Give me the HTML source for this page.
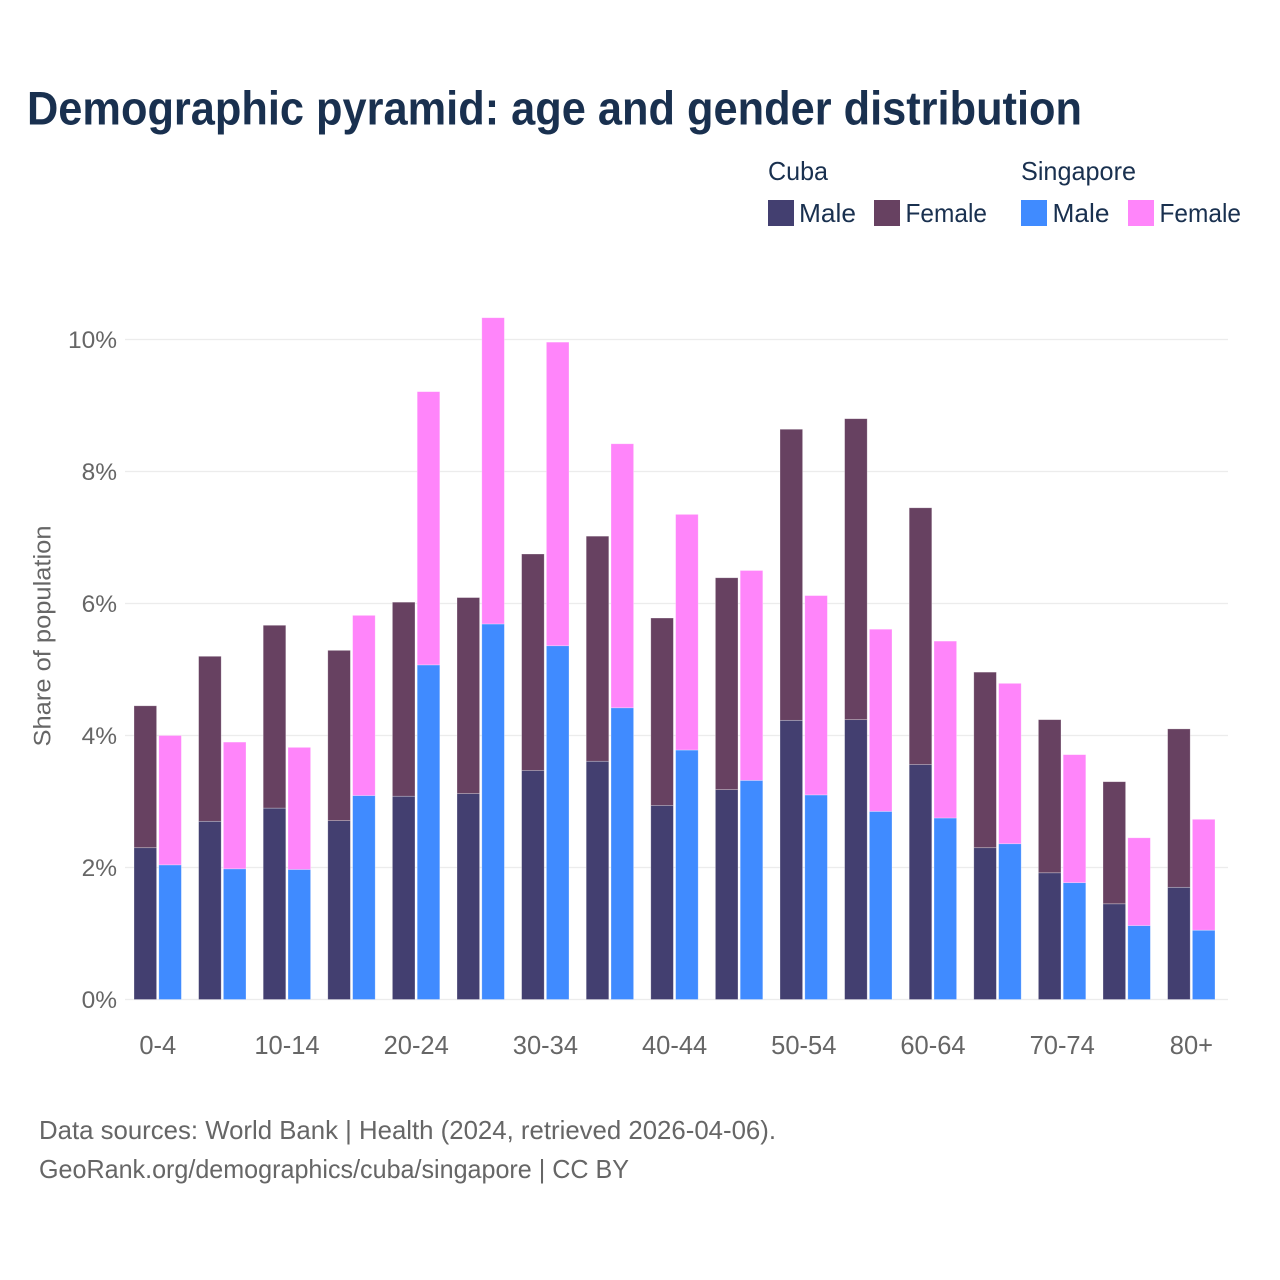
<!DOCTYPE html>
<html lang="en">
<head>
<meta charset="utf-8">
<title>Demographic pyramid: age and gender distribution</title>
<style>
html,body{margin:0;padding:0;background:#fff;}
svg{display:block;font-family:"Liberation Sans",sans-serif;}
</style>
</head>
<body>
<svg id="chart" xmlns="http://www.w3.org/2000/svg" width="1280" height="1280" viewBox="0 0 1280 1280">
  <rect width="1280" height="1280" fill="#ffffff"/>
  <text x="27" y="124.5" font-size="47" font-weight="bold" fill="#19304f" textLength="1055" lengthAdjust="spacingAndGlyphs">Demographic pyramid: age and gender distribution</text>

  <g font-size="26" fill="#19304f">
    <text x="768" y="180" textLength="60" lengthAdjust="spacingAndGlyphs">Cuba</text>
    <text x="1021" y="180" textLength="115" lengthAdjust="spacingAndGlyphs">Singapore</text>
    <rect x="768" y="200" width="26" height="26" fill="#433f70"/>
    <text x="799" y="222" textLength="57" lengthAdjust="spacingAndGlyphs">Male</text>
    <rect x="874" y="200" width="26" height="26" fill="#674161"/>
    <text x="905.5" y="222" textLength="81.5" lengthAdjust="spacingAndGlyphs">Female</text>
    <rect x="1021" y="200" width="26" height="26" fill="#408bff"/>
    <text x="1052.5" y="222" textLength="57" lengthAdjust="spacingAndGlyphs">Male</text>
    <rect x="1128" y="200" width="26" height="26" fill="#ff85fa"/>
    <text x="1159.5" y="222" textLength="81.5" lengthAdjust="spacingAndGlyphs">Female</text>
  </g>

  <g id="grid"></g>
  <g id="bars"></g>
  <g id="y-ticks"></g>
  <g id="x-ticks"></g>

  <text transform="translate(50.5,636) rotate(-90)" text-anchor="middle" font-size="24" fill="#666666" textLength="221" lengthAdjust="spacingAndGlyphs">Share of population</text>

  <text x="39" y="1139" font-size="26" fill="#666666" textLength="737" lengthAdjust="spacingAndGlyphs">Data sources: World Bank | Health (2024, retrieved 2026-04-06).</text>
  <text x="39" y="1178" font-size="26" fill="#666666" textLength="590" lengthAdjust="spacingAndGlyphs">GeoRank.org/demographics/cuba/singapore | CC BY</text>
</svg>
<script>
const ageGroups = ["0-4","5-9","10-14","15-19","20-24","25-29","30-34","35-39","40-44","45-49","50-54","55-59","60-64","65-69","70-74","75-79","80+"];
const cubaMale = [2.30,2.70,2.90,2.71,3.08,3.12,3.47,3.61,2.94,3.18,4.23,4.24,3.56,2.30,1.92,1.45,1.70];
const cubaFemale = [2.15,2.50,2.77,2.58,2.94,2.97,3.28,3.41,2.84,3.21,4.41,4.56,3.89,2.66,2.32,1.85,2.40];
const singaporeMale = [2.04,1.98,1.97,3.09,5.07,5.69,5.36,4.42,3.78,3.32,3.10,2.85,2.75,2.36,1.77,1.12,1.05];
const singaporeFemale = [1.96,1.92,1.85,2.73,4.14,4.64,4.60,4.00,3.57,3.18,3.02,2.76,2.68,2.43,1.94,1.33,1.68];
const yTicks = [0,2,4,6,8,10];

const NS = "http://www.w3.org/2000/svg";
const y = v => 999.5 - v * 66;
const groupX = i => 134 + i * 64.6;
const BAR_W = 22.6;
const SECOND_OFFSET = 24.8;

function make(tag, attrs, parent) {
  const el = document.createElementNS(NS, tag);
  for (const k in attrs) el.setAttribute(k, attrs[k]);
  parent.appendChild(el);
  return el;
}

const gridG = document.getElementById("grid");
const yG = document.getElementById("y-ticks");
const xG = document.getElementById("x-ticks");
const barsG = document.getElementById("bars");

yTicks.forEach(t => {
  const line = make("line", {x1:125, x2:1228, y1:y(t), y2:y(t), stroke:"#ececec", "stroke-width":1.3}, gridG);
  
  
  const label = make("text", {x:117, y:y(t)+8.5, "text-anchor":"end", "font-size":24.5, fill:"#666666"}, yG);
  
  
  label.textContent = t + "%";
});

function segment(x, base, value, fill, name) {
  const top = y(base + value);
  const r = make("rect", {x:x, y:top, width:BAR_W, height:y(base) - top, fill:fill, stroke:"#ffffff", "stroke-opacity":0.4, "stroke-width":0.7}, barsG);
  
  
}

ageGroups.forEach((age, i) => {
  const x0 = groupX(i);
  const x1 = x0 + SECOND_OFFSET;
  segment(x0, 0, cubaMale[i], "#433f70", "bar-cuba-male");
  segment(x0, cubaMale[i], cubaFemale[i], "#674161", "bar-cuba-female");
  segment(x1, 0, singaporeMale[i], "#408bff", "bar-singapore-male");
  segment(x1, singaporeMale[i], singaporeFemale[i], "#ff85fa", "bar-singapore-female");
  if (i % 2 === 0) {
    const label = make("text", {x:x0 + 23.8, y:1054, "text-anchor":"middle", "font-size":25.5, fill:"#666666"}, xG);
    
    
    label.textContent = age;
  }
});
</script>
</body>
</html>
